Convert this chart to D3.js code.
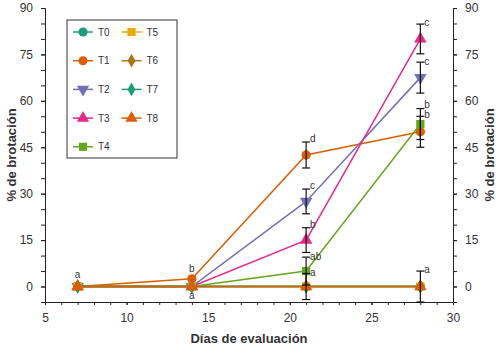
<!DOCTYPE html>
<html>
<head>
<meta charset="utf-8">
<script src="https://cdn.jsdelivr.net/npm/d3@7"></script>
<style>
  body { margin: 0; background: #fff; }
  text { font-family: "Liberation Sans", Arial, sans-serif; fill: #333; }
</style>
</head>
<body>
<script>
// data
var days = [7, 14, 21, 28];
var treatments = ["T0", "T1", "T2", "T3", "T4", "T5", "T6", "T7", "T8"];
var colors = ["#1b9e77", "#d95f02", "#7570b3", "#e7298a", "#66a61e", "#e6ab02", "#a6761d", "#1b9e77", "#d95f02"];
var shapes = ["circle", "circle", "triangleDown", "triangle", "square", "square", "diamond", "diamond", "triangle"];

var T0 = [0, 0, 0, 0];
var T1 = [0, 2.5, 42.5, 50];
var T2 = [0, 0, 27.5, 67.5];
var T3 = [0, 0, 15, 80];
var T4 = [0, 0, 5, 52.5];
var T5 = [0, 0, 0, 0];
var T6 = [0, 0, 0, 0];
var T7 = [0, 0, 0, 0];
var T8 = [0, 0, 0, 0];
var values = [T0, T1, T2, T3, T4, T5, T6, T7, T8];

// error bar half widths
var errors = [
  [0, 0, 0, 0],
  [0, 0, 4.2, 5],
  [0, 0, 4, 5],
  [0, 0, 4, 4.8],
  [0, 0, 4.5, 5],
  [0, 0, 0, 0],
  [0, 0, 0, 0],
  [0, 0, 0, 0],
  [0, 0, 4.2, 5]
];

// significance letters
var letterDays = [7, 14, 14, 21, 21, 21, 21, 21, 28, 28, 28, 28, 28];
var letterVals = [2.9, 4.8, -3.9, 46.6, 31.5, 19, 8.7, 3.5, 84.2, 71.5, 57.8, 54.3, 4.5];
var letterTexts = ["a", "b", "a", "d", "c", "b", "ab", "a", "c", "c", "b", "b", "a"];

var xTicks = [5, 10, 15, 20, 25, 30];
var yTicks = [0, 15, 30, 45, 60, 75, 90];

var W = 502, H = 348;
var margin = {top: 8, right: 49, bottom: 46, left: 45},
    width = W - margin.left - margin.right,
    height = H - margin.top - margin.bottom;

var x = d3.scaleLinear().domain([5, 30]).range([0, width]);
var y = d3.scaleLinear().domain([-5, 90]).range([height, 0]);

var svg = d3.select("body").append("svg")
    .attr("width", W)
    .attr("height", H)
    .append("g")
    .attr("transform", "translate(" + margin.left + "," + margin.top + ")");

// axes: major ticks with labels, minor ticks without
function styleAxis(g) {
  g.selectAll("path, line").attr("stroke", "#222");
  g.selectAll("text").style("font-size", "12px").attr("fill", "#333");
}

svg.append("g")
    .attr("transform", "translate(0," + height + ")")
    .call(d3.axisBottom(x).tickValues(d3.range(5, 31, 1)).tickSize(3).tickFormat(""))
    .call(styleAxis);
svg.append("g")
    .attr("transform", "translate(0," + height + ")")
    .call(d3.axisBottom(x).tickValues(xTicks).tickSize(3).tickPadding(8).tickSizeOuter(0))
    .call(styleAxis);

svg.append("g")
    .call(d3.axisLeft(y).tickValues(d3.range(-5, 91, 5)).tickSize(4).tickFormat(""))
    .call(styleAxis);
svg.append("g")
    .call(d3.axisLeft(y).tickValues(yTicks).tickSize(4).tickPadding(8).tickSizeOuter(0))
    .call(styleAxis);

svg.append("g")
    .attr("transform", "translate(" + width + ",0)")
    .call(d3.axisRight(y).tickValues(d3.range(-5, 91, 5)).tickSize(4).tickFormat(""))
    .call(styleAxis);
svg.append("g")
    .attr("transform", "translate(" + width + ",0)")
    .call(d3.axisRight(y).tickValues(yTicks).tickSize(4).tickPadding(8).tickSizeOuter(0))
    .call(styleAxis);

// axis titles
svg.append("text")
    .attr("text-anchor", "middle")
    .attr("transform", "translate(" + (width / 2) + "," + (height + 41) + ")")
    .style("font-size", "13px").style("font-weight", "bold").attr("fill", "#222")
    .text("Días de evaluación");

svg.append("text")
    .attr("text-anchor", "middle")
    .attr("transform", "translate(" + (-29) + "," + (height / 2) + ")rotate(-90)")
    .style("font-size", "13px").style("font-weight", "bold").attr("fill", "#222")
    .text("% de brotación");

svg.append("text")
    .attr("text-anchor", "middle")
    .attr("transform", "translate(" + (width + 41) + "," + (height / 2) + ")rotate(-90)")
    .style("font-size", "13px").style("font-weight", "bold").attr("fill", "#222")
    .text("% de brotación");

var symbolType = {
  circle: d3.symbolCircle,
  square: d3.symbolSquare,
  diamond: d3.symbolDiamond,
  triangle: d3.symbolTriangle,
  triangleDown: d3.symbolTriangle
};
function symbolPath(shape, size) {
  return d3.symbol().type(symbolType[shape]).size(size)();
}
function symbolRotate(shape) {
  return shape === "triangleDown" ? " rotate(180)" : "";
}

var line = d3.line()
    .x(function(d) { return x(d.day); })
    .y(function(d) { return y(d.v); });

var series = treatments.map(function(t, i) {
  return {
    name: t, color: colors[i], shape: shapes[i],
    points: days.map(function(d, j) { return {day: d, v: values[i][j], e: errors[i][j]}; })
  };
});

// lines + markers
series.forEach(function(s) {
  var g = svg.append("g");
  g.append("path")
      .datum(s.points)
      .attr("fill", "none")
      .attr("stroke", s.color)
      .attr("stroke-width", 1.5)
      .attr("d", line);
  g.selectAll("path.mk")
      .data(s.points)
      .enter().append("path")
      .attr("class", "mk")
      .attr("transform", function(d) { return "translate(" + x(d.day) + "," + y(d.v) + ")" + symbolRotate(s.shape); })
      .attr("d", symbolPath(s.shape, s.shape === "diamond" ? 55 : 68))
      .attr("fill", s.color);
});

// error bars
var errs = [];
series.forEach(function(s) {
  s.points.forEach(function(p) { if (p.e > 0) errs.push(p); });
});
var eb = svg.append("g").attr("stroke", "#111").attr("stroke-width", 1.2);
eb.selectAll("line.v").data(errs).enter().append("line")
    .attr("x1", function(d) { return x(d.day); })
    .attr("x2", function(d) { return x(d.day); })
    .attr("y1", function(d) { return y(d.v - d.e); })
    .attr("y2", function(d) { return y(d.v + d.e); });
eb.selectAll("line.t").data(errs).enter().append("line")
    .attr("x1", function(d) { return x(d.day) - 4; })
    .attr("x2", function(d) { return x(d.day) + 4; })
    .attr("y1", function(d) { return y(d.v + d.e); })
    .attr("y2", function(d) { return y(d.v + d.e); });
eb.selectAll("line.b").data(errs).enter().append("line")
    .attr("x1", function(d) { return x(d.day) - 4; })
    .attr("x2", function(d) { return x(d.day) + 4; })
    .attr("y1", function(d) { return y(d.v - d.e); })
    .attr("y2", function(d) { return y(d.v - d.e); });

// letters
var letters = letterTexts.map(function(t, i) { return {day: letterDays[i], v: letterVals[i], t: t}; });
svg.selectAll("text.let")
    .data(letters)
    .enter().append("text")
    .attr("class", "let")
    .attr("x", function(d) { return d.day < 20 ? x(d.day) : x(d.day) + 4; })
    .attr("y", function(d) { return y(d.v); })
    .attr("text-anchor", function(d) { return d.day < 20 ? "middle" : "start"; })
    .style("font-size", "10px")
    .attr("fill", "#333")
    .text(function(d) { return d.t; });

// legend
var legend = svg.append("g").attr("transform", "translate(" + (67 - margin.left) + "," + (20 - margin.top) + ")");
legend.append("rect")
    .attr("width", 110).attr("height", 138)
    .attr("fill", "#fff").attr("stroke", "#333").attr("stroke-width", 1);

var items = legend.selectAll("g.item")
    .data(series)
    .enter().append("g")
    .attr("class", "item")
    .attr("transform", function(d, i) {
      var col = i < 5 ? 0 : 1, row = i < 5 ? i : i - 5;
      return "translate(" + (16 + col * 48.5) + "," + (12 + row * 28.7) + ")";
    });
items.append("line")
    .attr("x1", -10).attr("x2", 10)
    .attr("stroke", function(d) { return d.color; })
    .attr("stroke-width", 1.5);
items.append("path")
    .attr("transform", function(d) { return "translate(0,0)" + symbolRotate(d.shape); })
    .attr("d", function(d) { return symbolPath(d.shape, d.shape === "diamond" ? 55 : 65); })
    .attr("fill", function(d) { return d.color; });
items.append("text")
    .attr("x", 15).attr("y", 3.5)
    .style("font-size", "10px")
    .attr("fill", "#333")
    .text(function(d) { return d.name; });
</script>
</body>
</html>
